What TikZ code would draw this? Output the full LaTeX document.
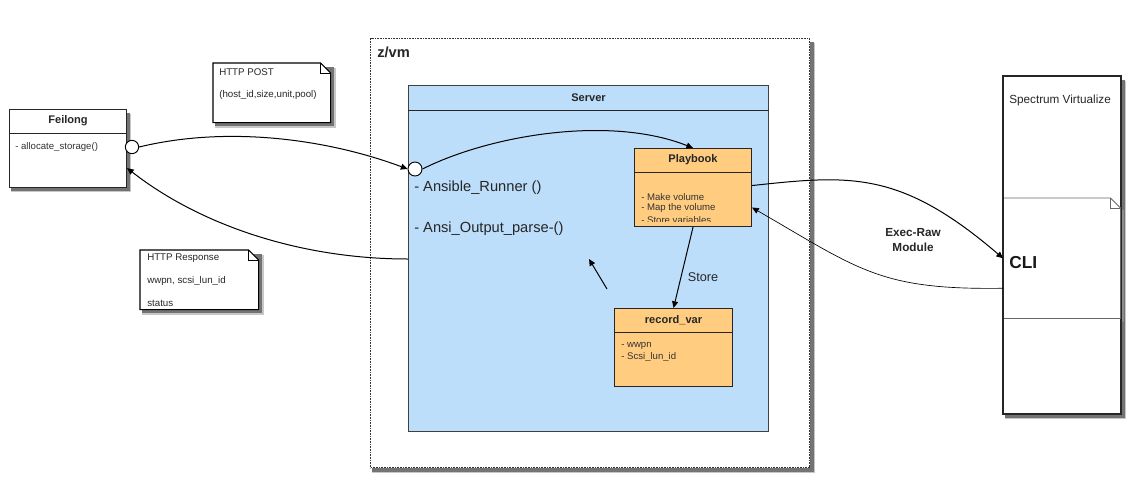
\documentclass[tikz,border=0pt]{standalone}
\usepackage{fontspec}
\setmainfont{Liberation Sans}
\usetikzlibrary{arrows.meta,calc}
\definecolor{srvblue}{RGB}{189,222,250}
\definecolor{pborange}{RGB}{255,204,128}
\pgfdeclarelayer{paper}
\pgfdeclarelayer{shadowlayer}
\pgfsetlayers{paper,shadowlayer,main}
\newcommand{\boxshadow}[2]{%
  \begin{pgfonlayer}{shadowlayer}
  \fill[black!22] ($(#1)+(2,5)$) rectangle ($(#2)+(5,5)$);
  \fill[black!55] ($(#1)+(2,3.5)$) rectangle ($(#2)+(3.5,3.5)$);
  \end{pgfonlayer}}
\begin{document}
\begin{tikzpicture}[x=0.75pt,y=-0.75pt,
  umlbox/.style={draw=black!85,line width=0.8pt,anchor=north west,inner sep=0pt,minimum width=87.75pt,minimum height=58.5pt},
  hdr/.style={draw=black!85,line width=0.7pt},
  ttl/.style={font=\bfseries\fontsize{8.3}{9}\selectfont,text=black!85},
  itm/.style={font=\fontsize{7.2}{8}\selectfont,text=black!80,anchor=west,inner sep=0pt},
  notetxt/.style={font=\fontsize{7.3}{8}\selectfont,text=black!85,anchor=west,inner sep=0pt},
  notebody/.style={draw=black,line width=0.8pt,fill=white},
  port/.style={circle,draw=black,line width=0.7pt,fill=white,inner sep=0pt},
  conn/.style={draw=black,line width=0.75pt,-{Triangle[length=5pt,width=4.5pt]}},
  thinconn/.style={draw=black,line width=0.5pt,-{Triangle[length=5pt,width=4.5pt]}},
  bigtxt/.style={font=\fontsize{11}{13}\selectfont,text=black!85,anchor=west,inner sep=0pt}
]
\begin{pgfonlayer}{paper}
\fill[white] (0,0) rectangle (1137,479);
\end{pgfonlayer}
\useasboundingbox (0,0) rectangle (1137,479);

% z/vm container
\node[anchor=north west,inner sep=0pt,minimum width=329.25pt,minimum height=321.75pt,
      draw=black!80,dash pattern=on 1.2pt off 0.8pt,line width=1pt,fill=white] (zvm) at (370,38) {};
\boxshadow{zvm.north west}{zvm.south east}
\node[font=\bfseries\fontsize{11}{13}\selectfont,text=black!85,anchor=west,inner sep=0pt] (zvmT) at (377,52) {z/vm};

% Server
\node[anchor=north west,inner sep=0pt,minimum width=270pt,minimum height=259.5pt,
      draw=black!75,line width=0.8pt,fill=srvblue] (server) at (408,85) {};
\draw[hdr] ($(server.north west)+(0,25)$) -- ($(server.north east)+(0,25)$);
\node[ttl] (serverT) at ($(server.north)+(0,12.5)$) {Server};
\node[bigtxt] (ansr) at (414,188) {- Ansible\_Runner ()};
\node[bigtxt] (anso) at (414,229) {- Ansi\_Output\_parse-()};

% Feilong (shadow first)
\fill[black!22] (11,114) rectangle (131,192);
\fill[black!55] (11,112.5) rectangle (129.5,190.5);
\node[umlbox,fill=white] (feilong) at (9,109) {};
\draw[hdr] ($(feilong.north west)+(0,24)$) -- ($(feilong.north east)+(0,24)$);
\node[ttl] (feilongT) at ($(feilong.north)+(0,12)$) {Feilong};
\node[itm] (feilongI) at ($(feilong.north west)+(6,38)$) {- allocate\_storage()};

% Playbook
\node[umlbox,fill=pborange] (pb) at (634,148) {};
\begin{scope}
\clip (pb.north west) rectangle ($(pb.south east)+(0,-6)$);
\node[itm] (pb1) at ($(pb.north west)+(7,49)$) {- Make volume};
\node[itm] (pb2) at ($(pb.north west)+(7,60)$) {- Map the volume};
\node[itm] (pb3) at ($(pb.north west)+(7,72.5)$) {- Store variables};
\end{scope}
\draw[hdr] ($(pb.north west)+(0,24)$) -- ($(pb.north east)+(0,24)$);
\node[ttl] (pbT) at ($(pb.north)+(0,12)$) {Playbook};

% record_var
\node[umlbox,fill=pborange,minimum width=88.5pt] (rv) at (614,308) {};
\draw[hdr] ($(rv.north west)+(0,24)$) -- ($(rv.north east)+(0,24)$);
\node[ttl] (rvT) at ($(rv.north)+(0,12)$) {record\_var};
\node[itm] (rv1) at ($(rv.north west)+(7,38)$) {- wwpn};
\node[itm] (rv2) at ($(rv.north west)+(7,49)$) {- Scsi\_lun\_id};

% ports
\node[port,minimum size=10pt] (p1) at (132,147) {};
\node[port,minimum size=10.5pt] (p2) at (415,169) {};

% HTTP POST note
\node[anchor=north west,inner sep=0pt,minimum width=87.75pt,minimum height=44.25pt] (post) at (213,63) {};
\boxshadow{post.north west}{post.south east}
\path[notebody] (post.north west) -- ($(post.north east)+(-10,0)$) -- ($(post.north east)+(0,10)$) -- (post.south east) -- (post.south west) -- cycle;
\draw[line width=0.5pt] ($(post.north east)+(-10,0)$) -- ($(post.north east)+(-10,10)$) -- ($(post.north east)+(0,10)$);
\node[notetxt] (post1) at ($(post.north west)+(6,9)$) {HTTP POST};
\node[notetxt] (post2) at ($(post.north west)+(6,32)$) {(host\_id,size,unit,pool)};

% HTTP Response note
\node[anchor=north west,inner sep=0pt,minimum width=88.5pt,minimum height=44.25pt] (resp) at (140,250) {};
\boxshadow{resp.north west}{resp.south east}
\path[notebody] (resp.north west) -- ($(resp.north east)+(-10,0)$) -- ($(resp.north east)+(0,10)$) -- (resp.south east) -- (resp.south west) -- cycle;
\draw[line width=0.5pt] ($(resp.north east)+(-10,0)$) -- ($(resp.north east)+(-10,10)$) -- ($(resp.north east)+(0,10)$);
\node[notetxt] (resp1) at ($(resp.north west)+(7,8)$) {HTTP Response};
\node[notetxt] (resp2) at ($(resp.north west)+(7,31)$) {wwpn, scsi\_lun\_id};
\node[notetxt] (resp3) at ($(resp.north west)+(7,53)$) {status};

% Spectrum Virtualize
\node[anchor=north west,inner sep=0pt,minimum width=87.75pt,minimum height=252.75pt,
      draw=black!85,line width=0.8pt,fill=white] (spec) at (1003,76) {};
\boxshadow{spec.north west}{spec.south east}
\node[font=\fontsize{8.8}{10}\selectfont,text=black!85,anchor=west,inner sep=0pt] (specT) at (1009,100) {Spectrum Virtualize};
\node[anchor=north west,inner sep=0pt,minimum width=87.75pt,minimum height=90pt] (cli) at (1003,198) {};
\fill[black!45] ($(cli.north east)+(0,12)$) rectangle ($(cli.south east)+(3.5,3)$);
\path[draw=black!60,line width=0.6pt,fill=white] (cli.north west) -- ($(cli.north east)+(-10,0)$) -- ($(cli.north east)+(0,10)$) -- (cli.south east) -- (cli.south west) -- cycle;
\draw[draw=black!60,line width=0.5pt] ($(cli.north east)+(-10,0)$) -- ($(cli.north east)+(-10,10)$) -- ($(cli.north east)+(0,10)$);
\draw[draw=black!85,line width=0.8pt] (spec.north west) rectangle (spec.south east);
\node[font=\bfseries\fontsize{13}{15}\selectfont,text=black!90,anchor=west,inner sep=0pt] (cliT) at (1009,263) {CLI};

% labels
\node[font=\fontsize{9.5}{11}\selectfont,text=black!85] (store) at (703,277) {Store};
\node[font=\bfseries\fontsize{8.8}{11}\selectfont,text=black!85,align=center] (exec) at (913,240) {Exec-Raw\\Module};

% connectors
\draw[conn] (p1.east) .. controls (230,125) and (330,140) .. (p2.west);
\draw[conn] (p2.east) .. controls (490,135) and (610,115) .. (pb.north);
\draw[conn] ($(server.north west)+(0,174)$) .. controls (300,259) and (200,225) .. ($(feilong.south east)+(0,-20)$);
\draw[conn] ($(pb.east)+(0,-2)$) .. controls (850,175) and (900,170) .. (cli.west);
\draw[thinconn] ($(cli.west)+(0,30)$) .. controls (880,290) and (860,270) .. ($(pb.east)+(0,20)$);
\draw[conn] (pb.south) -- (rv.north);
\coordinate (sa) at (607,289);
\coordinate (sb) at (589,259);
\draw[conn] (sa) -- (sb);
\end{tikzpicture}
\end{document}
